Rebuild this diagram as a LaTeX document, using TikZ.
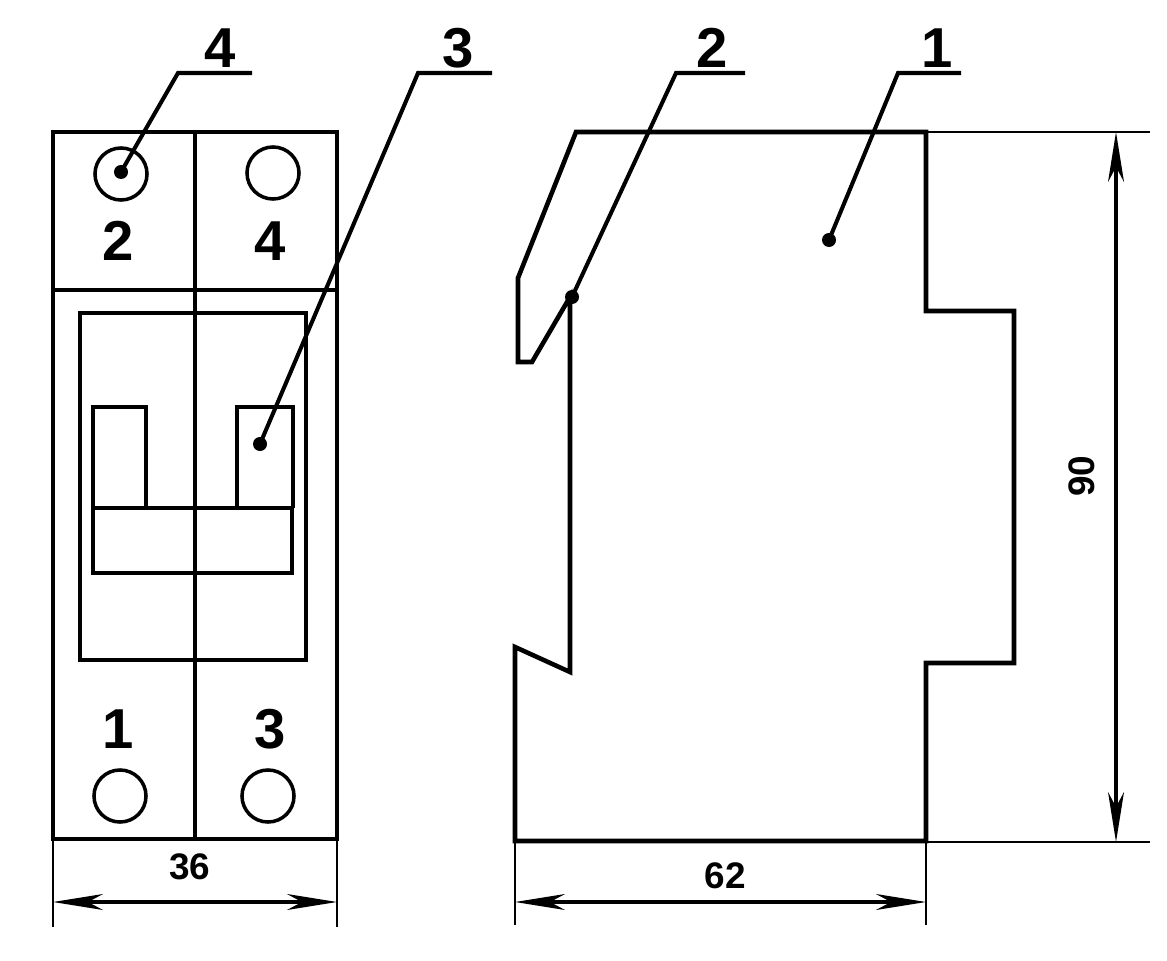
\documentclass[tikz,border=0pt]{standalone}
\usepackage{fontspec}
\setmainfont{Liberation Sans}
\usetikzlibrary{arrows.meta}

\tikzset{
    dimtip/.tip={Stealth[length=0.5cm, width=0.16cm, inset=0.15cm, line width=0.7pt]},
    body/.style={line width=1.3pt, line join=miter},
    thin line/.style={line width=0.8pt},
    ring/.style={line width=1pt},
    dim/.style={line width=0.9pt, dimtip-dimtip},
    leader/.style={line width=1.15pt},
    dot/.style={circle, fill, inner sep=0pt, minimum size=0.14cm},
    bigno/.style={font=\fontsize{16}{16}\selectfont\bfseries, inner sep=0pt},
    dimno/.style={font=\fontsize{10.5}{10.5}\selectfont\bfseries, inner sep=0pt}
}

\begin{document}
\begin{tikzpicture}[x=0.01cm, y=-0.01cm]
        \useasboundingbox (0, 0) rectangle (1167, 961);
        % front view
        \path[draw, body] (53, 132) rectangle (337, 839);
        \path[draw, body] (53, 290) -- (337, 290);
        \path[draw, body] (195, 132) -- (195, 839);
        \path[draw, body] (80, 313) rectangle (306, 660);
        \path[draw, body] (93, 508) rectangle (292, 573);
        \path[draw, body] (93, 508) -- (93, 407) -- (146, 407) -- (146, 508);
        \path[draw, body] (237, 508) -- (237, 407) -- (293, 407) -- (293, 508);
        \draw[ring] (121, 174) circle (0.26cm);
        \draw[ring] (273, 173) circle (0.26cm);
        \draw[ring] (120, 796) circle (0.26cm);
        \draw[ring] (268, 796) circle (0.26cm);
        \node[bigno] (termb) at (118, 241) {2};
        \node[bigno] (termd) at (270, 241) {4};
        \node[bigno] (terma) at (118, 729) {1};
        \node[bigno] (termc) at (270, 729) {3};
        % side view
        \path[draw, body] (576, 132) -- (926, 132) -- (926, 311) -- (1014, 311) -- (1014, 663)
            -- (926, 663) -- (926, 841) -- (515, 841) -- (515, 647) -- (570, 672) -- (570, 297)
            -- (532, 362) -- (518, 362) -- (518, 278) -- cycle;
        % leaders
        \node[dot] (dotd) at (121, 172) {};
        \node[dot] (dotc) at (260, 444) {};
        \node[dot] (dotb) at (572, 297) {};
        \node[dot] (dota) at (829, 240) {};
        \coordinate (kneed) at (178, 73);
        \coordinate (endd) at (252, 73);
        \coordinate (kneec) at (418, 73);
        \coordinate (endc) at (492, 73);
        \coordinate (kneeb) at (676, 73);
        \coordinate (endb) at (745, 73);
        \coordinate (kneea) at (898, 73);
        \coordinate (enda) at (961, 73);
        \draw[leader] (dotd.center) -- (kneed) -- (endd);
        \draw[leader] (dotc.center) -- (kneec) -- (endc);
        \draw[leader] (dotb.center) -- (kneeb) -- (endb);
        \draw[leader] (dota.center) -- (kneea) -- (enda);
        \node[bigno] (labd) at (220, 48) {4};
        \node[bigno] (labc) at (458, 48) {3};
        \node[bigno] (labb) at (712, 48) {2};
        \node[bigno] (laba) at (937, 48) {1};
        % dimensions
        \coordinate (wa) at (53, 839);
        \coordinate (wb) at (53, 927);
        \coordinate (wc) at (337, 839);
        \coordinate (wd) at (337, 927);
        \coordinate (we) at (515, 841);
        \coordinate (wf) at (515, 925);
        \coordinate (wg) at (926, 841);
        \coordinate (wh) at (926, 925);
        \coordinate (ha) at (926, 132);
        \coordinate (hb) at (1150, 132);
        \coordinate (hc) at (926, 842);
        \coordinate (hd) at (1150, 842);
        \draw[thin line] (wa) -- (wb);
        \draw[thin line] (wc) -- (wd);
        \draw[thin line] (we) -- (wf);
        \draw[thin line] (wg) -- (wh);
        \draw[thin line] (ha) -- (hb);
        \draw[thin line] (hc) -- (hd);
        \coordinate (da) at (53, 902);
        \coordinate (db) at (337, 902);
        \coordinate (dc) at (515, 902);
        \coordinate (dd) at (926, 902);
        \coordinate (de) at (1116, 132);
        \coordinate (df) at (1116, 842);
        \draw[dim] (da) -- (db);
        \draw[dim] (dc) -- (dd);
        \draw[dim] (de) -- (df);
        \node[dimno] (wfront) at (190, 867) {36};
        \node[dimno] (wside) at (725, 876) {62};
        \node[dimno, rotate=90] (hside) at (1082, 476) {90};
    \end{tikzpicture}
\end{document}
